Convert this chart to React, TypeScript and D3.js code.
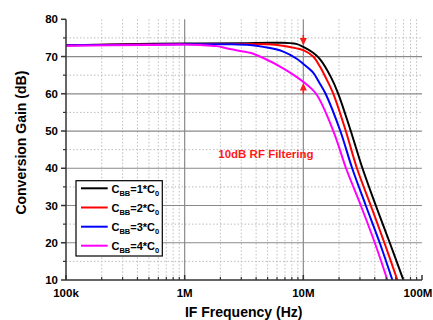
import React from "react";
import * as d3 from "d3";

const W = 433;
const H = 320;

// Data: [frequency (Hz), conversion gain (dB)]
const seriesNames = ["1", "2", "3", "4"];
const seriesColors = ["#000000", "#ff0000", "#0000ff", "#ff00ff"];

const cbb1: [number, number][] = [
  [1e5, 73.0], [3e5, 73.3], [1e6, 73.5], [3e6, 73.6], [6e6, 73.7], [8.7e6, 73.4],
  [1e7, 72.6], [1.21e7, 71.0], [1.38e7, 69.3], [1.7e7, 64.6], [1.97e7, 60],
  [2.51e7, 50], [3.15e7, 40], [4.08e7, 30], [5.35e7, 20], [6.97e7, 10],
];
const cbb2: [number, number][] = [
  [1e5, 73.0], [1e6, 73.4], [3e6, 73.4], [5e6, 73.3], [6.7e6, 72.9], [8.8e6, 72.2],
  [1e7, 71.7], [1.21e7, 70.0], [1.38e7, 67.3], [1.53e7, 64.6], [1.79e7, 60],
  [2.28e7, 50], [2.83e7, 40], [3.7e7, 30], [4.82e7, 20], [6.2e7, 10],
];
const cbb3: [number, number][] = [
  [1e5, 73.0], [1e6, 73.3], [2.4e6, 73.3], [3.55e6, 73.1], [4.6e6, 72.6], [6.7e6, 71.4],
  [8.8e6, 69.4], [1e7, 68.0], [1.21e7, 65.7], [1.38e7, 62.7], [1.54e7, 60],
  [2.05e7, 50], [2.58e7, 40], [3.36e7, 30], [4.4e7, 20], [5.63e7, 10],
];
const cbb4: [number, number][] = [
  [1e5, 72.9], [5e5, 73.1], [1e6, 73.2], [1.35e6, 73.1], [1.86e6, 72.8], [2.4e6, 72.0],
  [3.55e6, 71.0], [4.6e6, 69.6], [6.7e6, 66.9], [1e7, 63.2], [1.28e7, 60],
  [1.79e7, 50], [2.29e7, 40], [3.05e7, 30], [4.0e7, 20], [5.11e7, 10],
];
const allSeries = [cbb1, cbb2, cbb3, cbb4];

const xTickValues = [1e5, 1e6, 1e7, 1e8];
const xTickLabels = ["100k", "1M", "10M", "100M"];
const yTickValues = [10, 20, 30, 40, 50, 60, 70, 80];

const FONT = "'Liberation Sans', Arial, Helvetica, sans-serif";

export default function App() {
  const left = 66, right = 422, top = 19.3, bottom = 280;
  const x = d3.scaleLog().domain([1e5, 1e8]).range([left, right]);
  const y = d3.scaleLinear().domain([10, 80]).range([bottom, top]);

  const minorX: number[] = [];
  for (const dec of [1e5, 1e6, 1e7]) for (let k = 2; k <= 9; k++) minorX.push(dec * k);
  const minorY: number[] = d3.range(15, 80, 10);
  const majorYGrid = [20, 30, 40, 50, 60, 70];
  const majorXGrid = [1e6, 1e7];

  const line = d3
    .line<[number, number]>()
    .x((d) => x(d[0]))
    .y((d) => y(d[1]))
    .curve(d3.curveCatmullRom.alpha(0.5));

  const ax = x(1e7);
  const legX = 76, legY = 180.7, legW = 86.3, legH = 75.3;
  const rowY = [188.3, 207.5, 226.7, 245.7];

  return (
    <svg
      width={W}
      height={H}
      style={{ position: "absolute", left: 0, top: 0, background: "#fff" }}
      fontFamily={FONT}
      fontWeight="bold"
    >
      <defs>
        <clipPath id="plotclip">
          <rect x={left} y={top} width={right - left} height={bottom - top} />
        </clipPath>
      </defs>
      <rect x={0} y={0} width={W} height={H} fill="#fff" />
      {/* minor grid */}
      {minorX.map((v) => (
        <line key={"mx" + v} x1={x(v)} x2={x(v)} y1={top} y2={bottom} stroke="#bdbdbd" strokeWidth={1} strokeDasharray="1.5,2" />
      ))}
      {minorY.map((v) => (
        <line key={"my" + v} x1={left} x2={right} y1={y(v)} y2={y(v)} stroke="#bdbdbd" strokeWidth={1} strokeDasharray="1.5,2" />
      ))}
      {/* major grid */}
      {majorYGrid.map((v) => (
        <line key={"gy" + v} x1={left} x2={right} y1={y(v)} y2={y(v)} stroke="#8a8a8a" strokeWidth={1.2} />
      ))}
      {majorXGrid.map((v) => (
        <line key={"gx" + v} x1={x(v)} x2={x(v)} y1={top} y2={bottom} stroke="#8a8a8a" strokeWidth={1.2} />
      ))}

      {/* curves */}
      <g clipPath="url(#plotclip)">
        {allSeries.map((s, i) => (
          <path key={"s" + i} d={line(s) || ""} fill="none" stroke={seriesColors[i]} strokeWidth={2} />
        ))}
      </g>

      {/* axes */}
      <line x1={left} x2={left} y1={top} y2={bottom} stroke="#333" strokeWidth={1.5} />
      <line x1={left} x2={right} y1={bottom} y2={bottom} stroke="#333" strokeWidth={1.5} />
      {yTickValues.map((v) => (
        <g key={"yt" + v}>
          <line x1={left - 5} x2={left} y1={y(v)} y2={y(v)} stroke="#333" strokeWidth={1.5} />
          <text x={left - 8} y={y(v) + 4} fontSize={11.5} textAnchor="end" fill="#000">
            {v}
          </text>
        </g>
      ))}
      {minorY.map((v) => (
        <line key={"ymt" + v} x1={left - 3} x2={left} y1={y(v)} y2={y(v)} stroke="#333" strokeWidth={1.2} />
      ))}
      {xTickValues.map((v, i) => (
        <g key={"xt" + v}>
          <line x1={x(v)} x2={x(v)} y1={bottom - 5} y2={bottom} stroke="#333" strokeWidth={1.5} />
          <text x={i === 3 ? x(v) - 4 : x(v)} y={296.7} fontSize={11.5} textAnchor="middle" fill="#000">
            {xTickLabels[i]}
          </text>
        </g>
      ))}
      {minorX.map((v) => (
        <line key={"xmt" + v} x1={x(v)} x2={x(v)} y1={bottom - 3} y2={bottom} stroke="#333" strokeWidth={1.2} />
      ))}

      {/* axis titles */}
      <text x={243.7} y={316.5} fontSize={14} textAnchor="middle" fill="#000">
        IF Frequency (Hz)
      </text>
      <text
        transform={`translate(25.5, ${(top + bottom) / 2 - 7}) rotate(-90)`}
        fontSize={14}
        textAnchor="middle"
        fill="#000"
      >
        Conversion Gain (dB)
      </text>

      {/* annotation */}
      <text x={218.3} y={158.3} fontSize={11.5} fill="#ff1a1a">
        10dB RF Filtering
      </text>
      <line x1={ax} x2={ax} y1={35} y2={39} stroke="#ff1a1a" strokeWidth={1.5} />
      <path d={`M${ax - 3.5},38 L${ax + 3.5},38 L${ax},45.5 Z`} fill="#ff1a1a" />
      <line x1={ax} x2={ax} y1={90} y2={94.3} stroke="#ff1a1a" strokeWidth={1.5} />
      <path d={`M${ax - 3.5},90.5 L${ax + 3.5},90.5 L${ax},83 Z`} fill="#ff1a1a" />

      {/* legend */}
      <rect x={legX} y={legY} width={legW} height={legH} fill="#fff" stroke="#000" strokeWidth={1.2} />
      {seriesNames.map((n, i) => (
        <g key={"leg" + i}>
          <line x1={81} x2={107.7} y1={rowY[i]} y2={rowY[i]} stroke={seriesColors[i]} strokeWidth={2} />
          <text x={111.5} y={rowY[i] + 4.2} fontSize={11} fill="#000">
            C
            <tspan fontSize={7.5} dy={3}>BB</tspan>
            <tspan dy={-3}>{"=" + n + "*C"}</tspan>
            <tspan fontSize={7.5} dy={3}>0</tspan>
          </text>
        </g>
      ))}
    </svg>
  );
}
